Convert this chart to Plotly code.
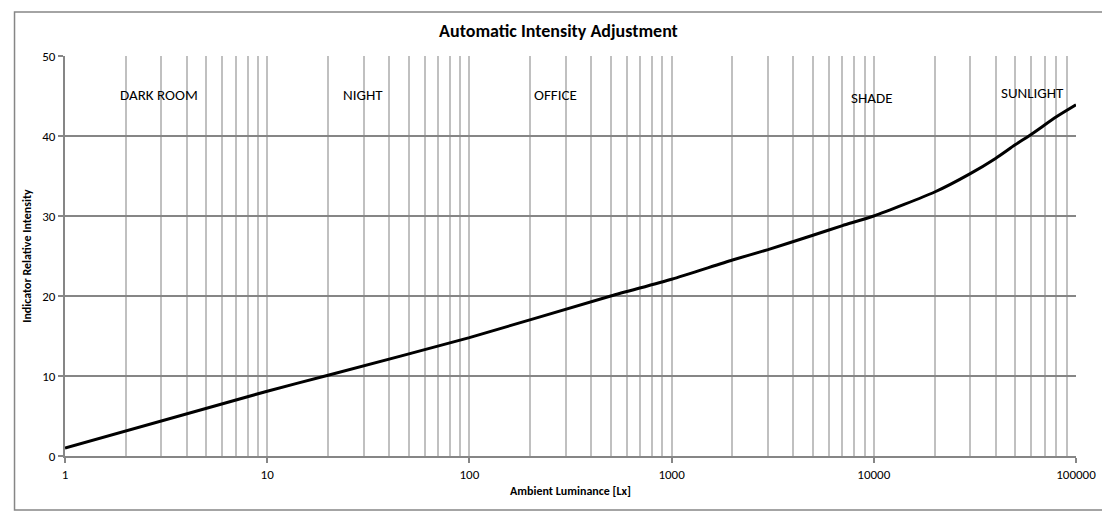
import math
import plotly.graph_objects as go

# Data
lux = [1, 10, 20, 100, 500, 1000, 2000, 3000, 5000, 7000, 10000, 20000, 30000, 40000, 50000, 60000, 80000, 100000]
intensity = [1.0, 8.1, 10.1, 14.8, 20.0, 22.1, 24.5, 25.8, 27.6, 28.8, 30.0, 33.0, 35.3, 37.2, 38.9, 40.2, 42.4, 43.9]

zone_labels = ["DARK ROOM", "NIGHT", "OFFICE", "SHADE", "SUNLIGHT"]
zone_x = [2.9, 29.8, 268, 9730, 61200]
zone_y = [45.1, 45.1, 45.1, 44.8, 45.4]

major_ticks = [1, 10, 100, 1000, 10000, 100000]
major_text = ["1", "10", "100", "1000", "10000", "100000"]
minor_ticks = [m * d for d in [1, 10, 100, 1000, 10000] for m in range(2, 10)]

FONT = "Carlito, Calibri, Lato, 'Liberation Sans', sans-serif"
GRID_V = "#c0c0c0"
AXIS = "#868686"

fig = go.Figure()
fig.add_trace(go.Scatter(
    x=lux, y=intensity, mode="lines",
    line=dict(color="black", width=3, shape="spline", smoothing=0.6),
    showlegend=False, hoverinfo="skip",
))

for t, xv, yv in zip(zone_labels, zone_x, zone_y):
    fig.add_annotation(x=math.log10(xv), y=yv, xref="x", yref="y", text=t, showarrow=False,
                       font=dict(family=FONT, size=15, color="black"))

# page offset (body margin of 8px)
OFF = 8
W, H = 1110 - OFF, 515 - OFF
# plot area in page coordinates
PX0, PX1, PY0, PY1 = 64.5, 1076, 56, 456
L = PX0 - OFF
R = (OFF + W) - PX1
T = PY0 - OFF
B = (OFF + H) - PY1
pw, ph = PX1 - PX0, PY1 - PY0

fig.add_shape(type="rect", xref="paper", yref="paper",
              x0=(14 - PX0) / pw, x1=(1103 - PX0) / pw,
              y0=(PY1 - 510) / ph, y1=(PY1 - 12) / ph,
              line=dict(color=AXIS, width=1.5), fillcolor="rgba(0,0,0,0)", layer="below")

fig.update_layout(
    width=W, height=H,
    margin=dict(l=L, r=R, t=T, b=B, pad=0),
    paper_bgcolor="white", plot_bgcolor="white",
    font=dict(family=FONT, size=12, color="black"),
    title=dict(text="<b>Automatic Intensity Adjustment</b>", x=(558.5 - OFF) / W, xref="container",
               xanchor="center", y=1 - (31 - OFF) / H, yref="container", yanchor="middle",
               font=dict(family=FONT, size=18, color="black")),
    xaxis=dict(
        type="log", range=[0, 5],
        tickvals=major_ticks, ticktext=major_text,
        showgrid=True, gridcolor=GRID_V, gridwidth=1.5,
        minor=dict(tickvals=minor_ticks, showgrid=True, gridcolor=GRID_V, gridwidth=1.5, ticks=""),
        showline=True, linecolor=AXIS, linewidth=2,
        ticks="outside", ticklen=5, tickcolor=AXIS, tickwidth=1.5,
        zeroline=False,
        tickfont=dict(family=FONT, size=13),
        title=dict(text="<b>Ambient Luminance [Lx]</b>", font=dict(family=FONT, size=12), standoff=6),
    ),
    yaxis=dict(
        range=[0, 50], tickvals=[0, 10, 20, 30, 40, 50],
        showgrid=True, gridcolor=AXIS, gridwidth=1.5,
        showline=True, linecolor=AXIS, linewidth=2,
        ticks="outside", ticklen=5, tickcolor=AXIS, tickwidth=1.5,
        zeroline=False,
        tickfont=dict(family=FONT, size=13),
        title=dict(text="<b>Indicator Relative Intensity</b>", font=dict(family=FONT, size=12), standoff=8),
    ),
)

fig.write_html("out.html")
